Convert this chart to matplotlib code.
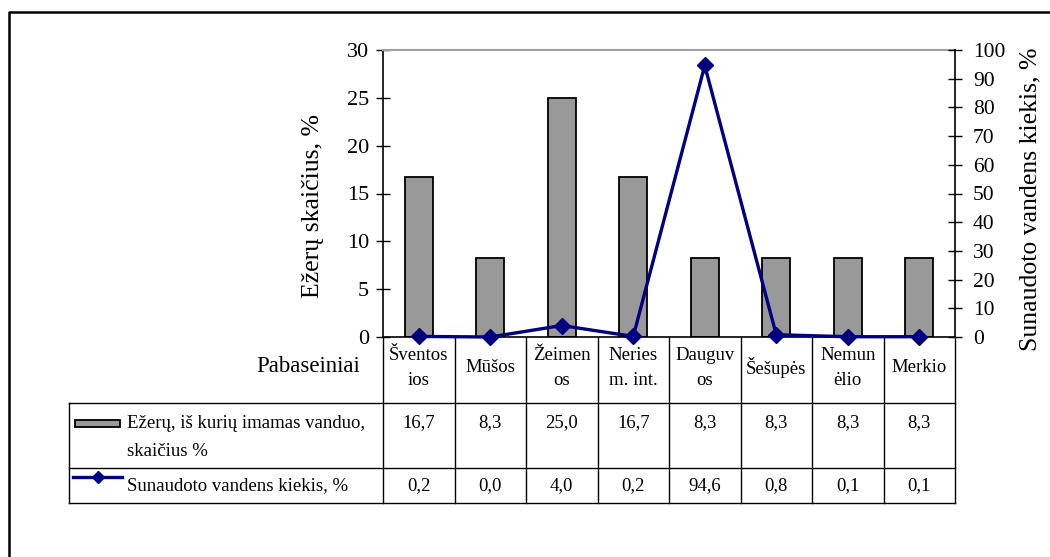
import matplotlib
matplotlib.use('Agg')
import matplotlib.pyplot as plt
import numpy as np
from matplotlib.transforms import blended_transform_factory
from matplotlib.lines import Line2D
from matplotlib.patches import Rectangle

# ---- data ----
categories = ["Šventos\nios", "Mūšos", "Žeimen\nos", "Neries\nm. int.",
              "Dauguv\nos", "Šešupės", "Nemun\nėlio", "Merkio"]
lakes_pct = [16.7, 8.3, 25.0, 16.7, 8.3, 8.3, 8.3, 8.3]
water_pct = [0.2, 0.0, 4.0, 0.2, 94.6, 0.8, 0.1, 0.1]
bar_label = ["Ežerų, iš kurių imamas vanduo,", "skaičius %"]
line_label = "Sunaudoto vandens kiekis, %"
left_title = "Ežerų skaičius, %"
right_title = "Sunaudoto vandens kiekis, %"
row_header = "Pabaseiniai"
left_ticks = [0, 5, 10, 15, 20, 25, 30]
right_ticks = [0, 10, 20, 30, 40, 50, 60, 70, 80, 90, 100]

plt.rcParams['font.family'] = ['Liberation Serif', 'DejaVu Serif']

W, H = 1050, 557
fig = plt.figure(figsize=(W / 100, H / 100), dpi=100)

L, R, T, B = 383, 955, 50, 337
ax = fig.add_axes([L / W, 1 - B / H, (R - L) / W, (B - T) / H])
ax.set_facecolor('none')
ov = fig.add_axes([0, 0, 1, 1], zorder=-1)
ov.set_xlim(0, W)
ov.set_ylim(H, 0)
ov.axis('off')
ov.patch.set_visible(False)

BAR_COLOR = '#999999'
LINE_COLOR = '#000080'

x = np.arange(len(categories))
ax.bar(x, lakes_pct, width=0.39, color=BAR_COLOR, edgecolor='black', linewidth=1.3, zorder=2)
ax.set_xlim(-0.5, len(categories) - 0.5)
ax.set_ylim(0, 30)
ax.set_yticks(left_ticks)
ax.set_xticks([])
ax.tick_params(axis='y', direction='inout', length=10, width=1, labelsize=16, pad=5)
ax.spines['top'].set_color('#a0a0a0')
ax.spines['top'].set_linewidth(1.5)
ax.spines['right'].set_visible(False)
ax.spines['left'].set_linewidth(1.2)
ax.spines['bottom'].set_linewidth(1.2)

ax2 = ax.twinx()
ax2.plot(x, water_pct, color=LINE_COLOR, linewidth=2.4, marker='D', markersize=8.5,
         clip_on=False, zorder=5)
ax2.set_ylim(0, 100)
ax2.set_yticks(right_ticks)
ax2.tick_params(axis='y', direction='inout', length=10, width=1, labelsize=15.5, pad=8)
for s in ['top', 'left', 'bottom']:
    ax2.spines[s].set_visible(False)
ax2.spines['right'].set_linewidth(1.2)

# axis titles
ov.text(313, 206, left_title, rotation=90, ha='center', va='center', fontsize=18.5)
ov.text(1030, 199, right_title, rotation=90, ha='center', va='center', fontsize=18.5)

# ---- data table ----
tr = blended_transform_factory(ax.transData, ov.transData)
ROW1, ROW2, BOT = 402.7, 468, 502.7
TL = 69
lc = 'black'
for i in range(len(categories) + 1):
    ov.add_line(Line2D([i - 0.5, i - 0.5], [B, BOT], transform=tr, color=lc, lw=1))
for yy in (ROW1, ROW2, BOT):
    ov.add_line(Line2D([TL, R], [yy, yy], color=lc, lw=1))
ov.add_line(Line2D([TL, TL], [ROW1, BOT], color=lc, lw=1))

for i, c in enumerate(categories):
    ov.text(i, 368, c, transform=tr, ha='center', va='center', fontsize=13.5, linespacing=1.6)
    ov.text(i, 423, f"{lakes_pct[i]:.1f}".replace('.', ','), transform=tr,
            ha='center', va='center', fontsize=13.5)
    ov.text(i, 486, f"{water_pct[i]:.1f}".replace('.', ','), transform=tr,
            ha='center', va='center', fontsize=13.5)

ov.text(360, 367, row_header, ha='right', va='center', fontsize=16.5)

# legend keys
ov.add_patch(Rectangle((75, 420), 45, 7, facecolor=BAR_COLOR, edgecolor='black', lw=1.3))
ov.add_line(Line2D([73, 122], [477, 477], color=LINE_COLOR, lw=2.4))
ov.add_line(Line2D([97.5], [477], color=LINE_COLOR, marker='D', markersize=6.5, lw=0))
ov.text(127, 423, bar_label[0], ha='left', va='center', fontsize=13.5)
ov.text(127, 452, bar_label[1], ha='left', va='center', fontsize=13.5)
ov.text(127, 486, line_label, ha='left', va='center', fontsize=13.5)

# outer frame (only top & left visible in crop)
ov.add_line(Line2D([9, 9, W], [H, 12, 12], color='black', lw=1.8))

fig.savefig('out.png', dpi=100)
